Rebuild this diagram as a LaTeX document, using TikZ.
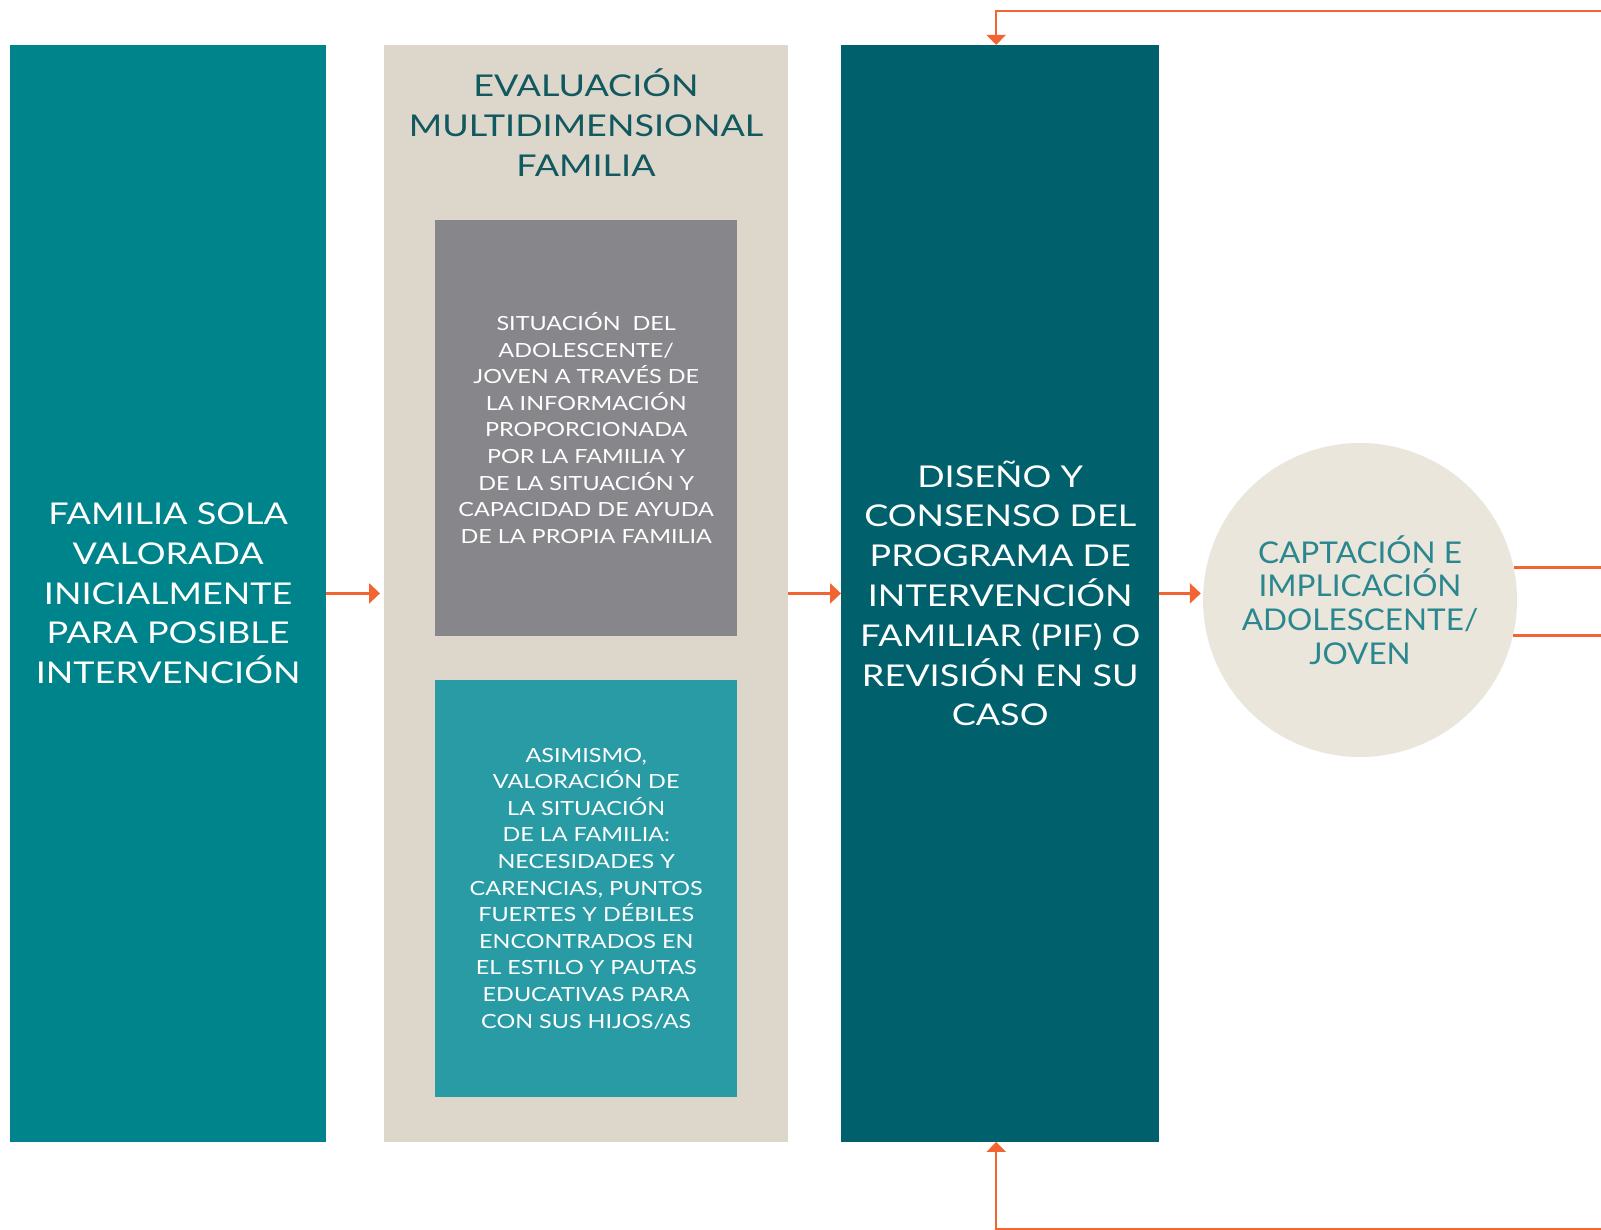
\documentclass[tikz,border=0pt]{standalone}
\usepackage{fontspec}
\setmainfont{Lato}[FakeStretch=1.2]
\newfontfamily\circfont{Lato}[FakeStretch=1.05]
\usetikzlibrary{arrows.meta}
\definecolor{famteal}{RGB}{0,132,139}
\definecolor{evalbeige}{RGB}{221,215,203}
\definecolor{sitgray}{RGB}{135,135,139}
\definecolor{asimteal}{RGB}{40,155,164}
\definecolor{pifdark}{RGB}{0,97,108}
\definecolor{captcream}{RGB}{234,230,219}
\definecolor{floworange}{RGB}{242,101,50}
\definecolor{titletext}{RGB}{17,88,95}
\definecolor{capttext}{RGB}{43,135,143}
\newcommand{\bigtxt}{\fontsize{30}{39.8}\selectfont}
\newcommand{\smalltxt}{\fontsize{19.5}{26.6}\selectfont}
\newcommand{\circtxt}{\circfont\fontsize{30}{33.7}\selectfont}
\begin{document}
\begin{tikzpicture}[x=1pt,y=1pt]
\tikzstyle{every node}+=[inner sep=0pt]
\tikzstyle{col}=[rectangle, anchor=north west, align=center, text=white, minimum height=1096.6pt, font=\bigtxt]
\tikzstyle{panel}=[rectangle, anchor=north west, align=center, text=white, minimum width=302pt, minimum height=416.5pt, font=\smalltxt]
\tikzstyle{fwd}=[draw=floworange, line width=3pt, -{Triangle[length=11pt,width=20pt]}]
\tikzstyle{back}=[draw=floworange, line width=2.5pt, -{Triangle[length=10pt,width=19pt]}]
\useasboundingbox (0,0) rectangle (1601,-1230);
\node [col, fill=famteal, minimum width=315.5pt] (fam) at (10.2,-44.9) {FAMILIA SOLA\\VALORADA\\INICIALMENTE\\PARA POSIBLE\\INTERVENCIÓN};
\node [col, fill=evalbeige, minimum width=404pt] (eval) at (384,-44.9) {};
\node [align=center, text=titletext, font=\bigtxt] (evaltitle) at (586,-122.5) {EVALUACIÓN\\MULTIDIMENSIONAL\\FAMILIA};
\node [panel, fill=sitgray] (sit) at (435,-219.5) {SITUACIÓN~~DEL\\ADOLESCENTE/\\JOVEN A TRAVÉS DE\\LA INFORMACIÓN\\PROPORCIONADA\\POR LA FAMILIA Y\\DE LA SITUACIÓN Y\\CAPACIDAD DE AYUDA\\DE LA PROPIA FAMILIA};
\node [panel, fill=asimteal] (asim) at (435,-680) {ASIMISMO,\\VALORACIÓN DE\\LA SITUACIÓN\\DE LA FAMILIA:\\NECESIDADES Y\\CARENCIAS, PUNTOS\\FUERTES Y DÉBILES\\ENCONTRADOS EN\\EL ESTILO Y PAUTAS\\EDUCATIVAS PARA\\CON SUS HIJOS/AS};
\node [col, fill=pifdark, minimum width=318pt] (pif) at (841,-44.9) {DISEÑO Y\\CONSENSO DEL\\PROGRAMA DE\\INTERVENCIÓN\\FAMILIAR (PIF) O\\REVISIÓN EN SU\\CASO};
\node [circle, fill=captcream, minimum size=314pt, align=center, text=capttext, font=\circtxt] (capt) at (1360,-600) {CAPTACIÓN E\\IMPLICACIÓN\\ADOLESCENTE/\\JOVEN};
\coordinate (rim) at (1601,0);
\coordinate (topend) at (1601,-11);
\coordinate (botend) at (1601,-1229);
\draw [fwd, shorten >=4pt] (fam.east) -- (eval.west);
\draw [fwd] (eval.east) -- (pif.west);
\draw [fwd, shorten >=2pt] (pif.east) -- (pif.east -| capt.west);
\draw [back] (topend) -| ([xshift=-4pt]pif.north);
\draw [back] (botend) -| ([xshift=-4pt]pif.south);
\draw [draw=floworange, line width=2.5pt] (capt.12.8) -- (capt.12.8 -| rim);
\draw [draw=floworange, line width=2.5pt] (capt.-13.6) -- (capt.-13.6 -| rim);
\end{tikzpicture}
\end{document}
